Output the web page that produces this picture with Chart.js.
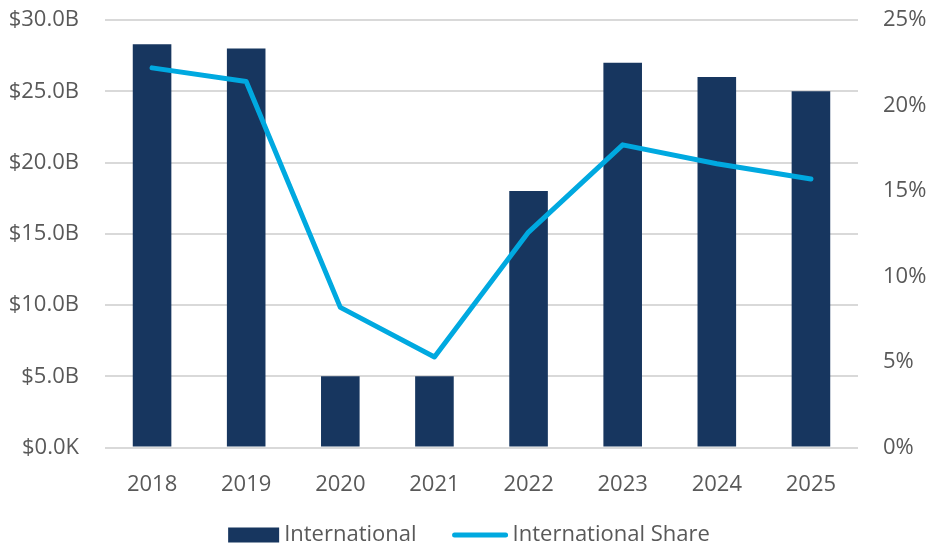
<!DOCTYPE html>
<html>
<head>
<meta charset="utf-8">
<script src="https://cdn.jsdelivr.net/npm/chart.js@4"></script>
<style>
  body { margin: 0; background: #fff; overflow: hidden; }
  #wrap { width: 930px; height: 550px; }
</style>
</head>
<body>
<div id="wrap"><canvas id="grafico"></canvas></div>
<script>
const years = ["2018", "2019", "2020", "2021", "2022", "2023", "2024", "2025"];
const international = [28.3, 28.0, 5.0, 5.0, 18.0, 27.0, 26.0, 25.0];   // $B
const intlShare = [22.2, 21.4, 8.2, 5.3, 12.6, 17.7, 16.6, 15.7];        // %
const leftTicks = [0, 5, 10, 15, 20, 25, 30];
const rightTicks = [0, 5, 10, 15, 20, 25];

const fuente = { family: "'Open Sans', 'Noto Sans', sans-serif", size: 22 };
const gris = "#595959";

// leyenda dibujada a mano (caja / linea + texto pegado)
const leyenda = {
    id: "leyenda",
    afterDraw(chart){
        let c = chart.ctx;
        let ds = chart.data.datasets;
        let items = [
            { ds: ds[1], w: 51, tipo: "caja" },
            { ds: ds[0], w: 55, tipo: "linea" }
        ];
        c.save();
        c.font = fuente.size + "px " + fuente.family;
        c.textBaseline = "middle";
        c.textAlign = "left";
        let total = 0;
        items.forEach((it, i) => {
            it.tw = c.measureText(it.ds.label).width;
            total += it.w + 5 + it.tw + (i > 0 ? 36 : 0);
        });
        let x = (chart.width - total) / 2 + 4;
        let y = 535;
        items.forEach((it, i) => {
            if(i > 0) x += 36;
            if(it.tipo == "caja"){
                c.fillStyle = it.ds.backgroundColor;
                c.fillRect(x, y - 7.5, it.w, 15);
            }
            else{
                c.strokeStyle = it.ds.borderColor;
                c.lineWidth = 5;
                c.lineCap = "round";
                c.beginPath();
                c.moveTo(x + 2, y);
                c.lineTo(x + it.w - 2, y);
                c.stroke();
            }
            x += it.w + 5;
            c.fillStyle = gris;
            c.fillText(it.ds.label, x, y);
            x += it.tw;
        });
        c.restore();
    }
};

window.onload = function(){
    let ctx = document.getElementById("grafico").getContext("2d");
    new Chart(ctx, {
        type: "bar",
        data: {
            labels: years,
            datasets: [{
                type: "line",
                label: "International Share",
                data: intlShare,
                yAxisID: "y2",
                borderColor: "#00a9e0",
                backgroundColor: "#00a9e0",
                borderWidth: 5,
                borderCapStyle: "round",
                borderJoinStyle: "round",
                pointRadius: 0,
                tension: 0,
                order: 1
            }, {
                label: "International",
                data: international,
                yAxisID: "y",
                backgroundColor: "#17365f",
                borderWidth: 0,
                categoryPercentage: 1,
                barPercentage: 0.41,
                order: 2
            }]
        },
        options: {
            responsive: true,
            maintainAspectRatio: false,
            animation: false,
            layout: { padding: { top: 20, bottom: 36 } },
            plugins: {
                tooltip: { enabled: false },
                legend: { display: false }
            },
            scales: {
                x: {
                    grid: { display: false },
                    border: { display: false },
                    ticks: { color: gris, font: fuente, padding: 16 }
                },
                y: {
                    position: "left",
                    min: 0,
                    max: 30,
                    afterFit: function(s){ s.width = 105; s.paddingTop = 0; },
                    afterBuildTicks: function(s){ s.ticks = leftTicks.map(v => ({ value: v })); },
                    grid: { color: "#d9d9d9", lineWidth: 2, drawTicks: false },
                    border: { display: false },
                    ticks: {
                        color: gris, font: fuente, padding: 26,
                        callback: v => v === 0 ? "$0.0K" : "$" + v.toFixed(1) + "B"
                    }
                },
                y2: {
                    position: "right",
                    min: 0,
                    max: 25,
                    afterFit: function(s){ s.width = 72; s.paddingTop = 0; },
                    afterBuildTicks: function(s){ s.ticks = rightTicks.map(v => ({ value: v })); },
                    grid: { display: false, drawTicks: false },
                    border: { display: false },
                    ticks: {
                        color: gris, font: fuente, padding: 25,
                        callback: v => v + "%"
                    }
                }
            }
        },
        plugins: [leyenda]
    });
}
</script>
</body>
</html>
